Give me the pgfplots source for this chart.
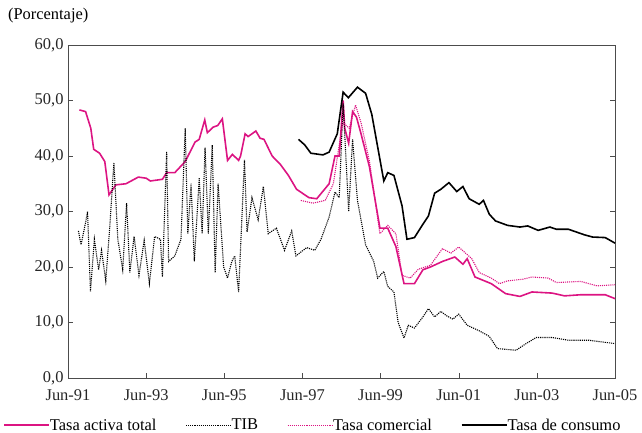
\documentclass[border=0pt]{standalone}
\usepackage{pgfplots}
\pgfplotsset{compat=1.18}
\usepackage{fontspec}
\setmainfont{Liberation Serif}
\definecolor{mag}{RGB}{220,20,130}
\begin{document}
\begin{tikzpicture}
\path[use as bounding box] (-68bp,-55bp) rectangle (574bp,378bp);
\begin{axis}[scale only axis, width=547bp, height=333bp,
 xmin=0,xmax=168,ymin=0,ymax=60,
 xtick={0,24,...,168}, xticklabels={Jun-91,Jun-93,Jun-95,Jun-97,Jun-99,Jun-01,Jun-03,Jun-05},
 ytick={0,10,...,60}, yticklabel={\pgfmathprintnumber[fixed,fixed zerofill,precision=1,use comma]{\tick}},
 /pgf/number format/assume math mode=true,
 tick label style={font=\fontsize{16.5}{18}\selectfont, text=black!85},
 xticklabel style={yshift=-8bp},
 yticklabel style={xshift=-1bp},
 tick align=inside, major tick length=5bp, xtick pos=bottom, ytick pos=both,
 axis line style={black!70}, tick style={black!70},
 legend style={at={(rel axis cs:-0.124,-0.11)},anchor=north west,draw=none,legend columns=4,font=\fontsize{16.5}{18}\selectfont,
   /tikz/every even column/.append style={column sep=27bp},
   /tikz/every odd column/.append style={column sep=-2bp}},
 legend image code/.code={\draw[#1] (0bp,0bp) -- (45bp,0bp);},
 legend cell align=left,
 clip=false]
\node[anchor=south west,font=\fontsize{16.5}{18}\selectfont,inner xsep=0pt] at (rel axis cs:-0.11,1.055) {(Porcentaje)};
\addplot[mag,line width=1.6pt] coordinates {(3.5,48.3)(5.4,48)(7,45)(7.9,41.2)(9.7,40.5)(11.3,39)(12.6,33)(14.7,34.8)(17.8,35)(21.6,36.2)(24,36)(25.3,35.5)(29,35.8)(30.3,37)(32.8,37)(36,39)(39,42.5)(40.3,43)(42,46.5)(42.8,44.2)(44.6,45.2)(46,45.5)(47.4,46.7)(49,39.2)(50.5,40.3)(52.4,39.2)(53,40)(54.4,44)(55.3,43.5)(57.7,44.5)(59,43.2)(60.2,43)(62.7,40)(65.2,38.5)(67.7,36.5)(70.2,34)(74,32.5)(76.4,32.3)(80.2,35)(82,40)(83.3,40)(84.5,50)(85,45)(86.2,42.3)(87.4,48)(88.6,47)(90,44)(92.6,38)(95.8,27)(98.2,27)(100.7,23.7)(103.2,17)(106.4,17)(109,19.5)(111.3,20)(115,21)(118.8,21.8)(121.3,20.5)(122.6,21.5)(125,18.2)(130,17)(134.4,15.2)(138.8,14.7)(142.5,15.5)(148.7,15.3)(152.5,14.8)(157.5,15)(165,15)(168,14.3)};
\addlegendentry{Tasa activa total}
\addplot[black,line width=1.1pt,densely dotted] coordinates {(3.2,26.5)(4,24)(5.4,28)(6,30)(6.9,15.6)(8.1,25)(9.4,19.5)(10.3,23)(11.6,17.5)(12.8,27)(14.1,38.8)(15.3,25)(16.8,19.5)(18,31.5)(19,19)(20.3,25.5)(21.8,18.5)(23.4,24.8)(25,17)(26.6,25.5)(28.4,25)(29,18.2)(30.3,40.8)(30.9,21)(32.8,22)(34.7,25)(36,45)(36.8,26)(37.8,35)(38.8,21)(40.3,36)(41.2,26)(42.1,41.5)(43.1,26)(44.3,42)(45.2,19)(46.1,35)(47.8,20)(49,18)(50.3,21)(51.2,22)(52.4,15.5)(54.2,39.3)(55,26.3)(56.5,32.5)(58.4,28.5)(60,34.5)(61.5,26)(64,27)(66.5,23)(68.7,26.5)(70,22)(73.3,23.5)(75.8,23)(77.7,25)(80.2,29)(82,33.5)(83.3,32.5)(84.5,49.5)(86.2,30)(87.4,43)(88.9,32)(91.4,24)(93.9,21)(95.1,18)(97,19.2)(98.2,16.5)(100.1,15.5)(101.4,10)(103.2,7.2)(104.5,9.5)(106.4,9)(109,11)(110.7,12.5)(112.6,11)(114.5,12)(116.3,11.2)(118.2,10.6)(120,11.5)(122.6,9.5)(126.3,8.5)(129.4,7.5)(131.9,5.3)(137.6,5)(140.7,6.2)(143.8,7.3)(148.7,7.3)(153.7,6.8)(160,6.8)(168,6.2)};
\addlegendentry{TIB}
\addplot[mag,line width=1.1pt,densely dotted] coordinates {(71.5,32)(75.2,31.5)(79,32)(81.5,35)(83.3,42)(84.5,46)(86.4,45)(88.3,49.2)(90,46)(92.6,39)(95.8,26)(98.2,27.5)(100.7,26)(102.6,18.5)(105.1,18)(107.6,19.6)(111.3,20.3)(115,23.3)(117.6,22.5)(120,23.6)(124,21.5)(126.3,19)(130,18)(132.5,17)(135,17.5)(139.7,17.8)(142.5,18.2)(147.5,18)(150,17.2)(157.5,17.4)(162.5,16.6)(168,16.8)};
\addlegendentry{Tasa comercial}
\addplot[black,line width=1.6pt] coordinates {(70.8,43)(72.7,42)(74.6,40.5)(78.3,40.2)(80.2,40.7)(82.7,44)(84.5,51.5)(86.1,50.5)(88.9,52.4)(91.4,51.3)(93.3,47.5)(97,35.5)(98.2,37)(100.1,36.5)(102.6,31)(104.1,25)(106.4,25.3)(109,27.7)(110.7,29.2)(112.6,33.3)(114.5,34)(117,35.2)(119.4,33.6)(121.3,34.5)(123.2,32.3)(126.3,31.3)(127.6,32)(129.4,29.5)(131.3,28.3)(135,27.5)(138.8,27.2)(141.2,27.4)(144.4,26.6)(148,27.2)(150,26.8)(153.7,26.8)(158.6,25.8)(161.1,25.4)(165,25.3)(168,24.3)};
\addlegendentry{Tasa de consumo}
\end{axis}
\end{tikzpicture}
\end{document}
